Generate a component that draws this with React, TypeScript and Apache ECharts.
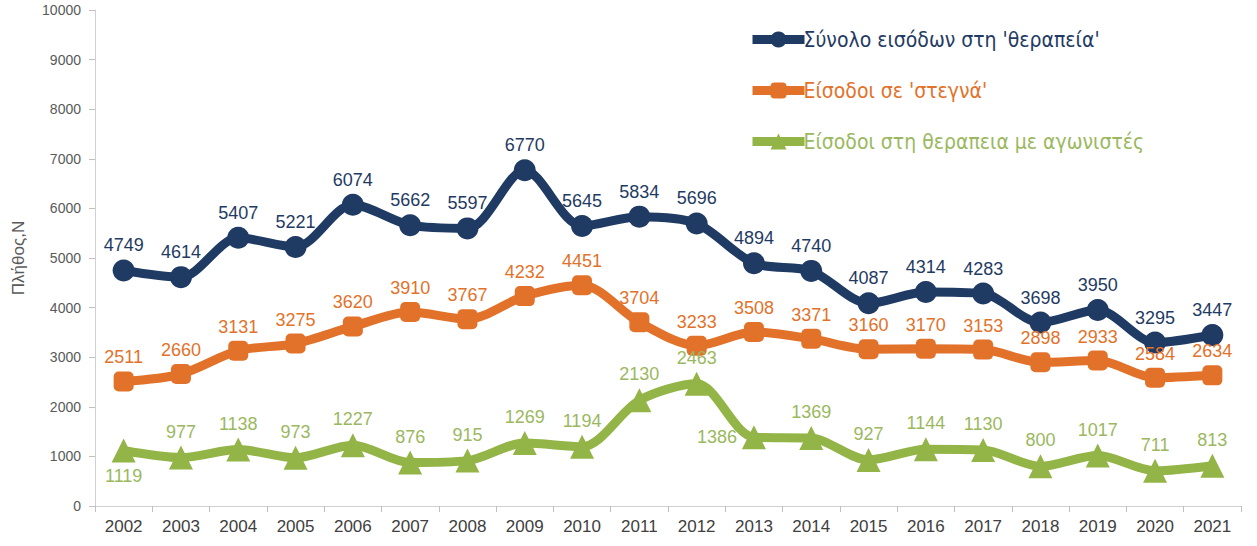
import React, { useEffect, useRef } from "react";
import * as echarts from "echarts";

const years = ["2002","2003","2004","2005","2006","2007","2008","2009","2010","2011","2012","2013","2014","2015","2016","2017","2018","2019","2020","2021"];
const totalEntries = [4749,4614,5407,5221,6074,5662,5597,6770,5645,5834,5696,4894,4740,4087,4314,4283,3698,3950,3295,3447];
const dryEntries = [2511,2660,3131,3275,3620,3910,3767,4232,4451,3704,3233,3508,3371,3160,3170,3153,2898,2933,2584,2634];
const agonistEntries = [1119,977,1138,973,1227,876,915,1269,1194,2130,2463,1386,1369,927,1144,1130,800,1017,711,813];
const seriesNames = ["Σύνολο εισόδων στη 'θεραπεία'", "Είσοδοι σε 'στεγνά'", "Είσοδοι στη θεραπεια με αγωνιστές"];
const yAxisName = "Πλήθος,Ν";

const NAVY = "#1f3b63";
const ORANGE = "#e2722a";
const GREEN = "#93b446";
const GREEN_TXT = "#9bb860";

export default function App() {
  const ref = useRef<HTMLDivElement>(null);
  useEffect(() => {
    const chart = echarts.init(ref.current!, null, { renderer: "svg" });
    const font = "Liberation Sans Narrow, Arial Narrow, Liberation Sans, sans-serif";
    const mkSeries = (name: string, data: number[], color: string, txt: string, symbol: string, size: number, labelPos: (i: number) => string) => ({
      name,
      type: "line",
      data: data.map((v, i) => ({ value: v, label: { position: labelPos(i) } })),
      smooth: 0.3,
      symbol,
      symbolSize: size,
      lineStyle: { color, width: 9 },
      itemStyle: { color },
      label: {
        show: true,
        color: txt,
        fontSize: 18,
        fontFamily: font,
        distance: 5,
      },
      z: 2,
    });
    chart.setOption({
      animation: false,
      textStyle: { fontFamily: font },
      grid: { left: 95, right: 16, top: 10, bottom: 40, containLabel: false },
      legend: {
        orient: "vertical",
        left: 743,
        top: 24,
        itemGap: 30,
        itemWidth: 52,
        itemHeight: 20,
        lineStyle: { width: 9 },
        textStyle: { fontSize: 21, fontFamily: "DejaVu Sans Condensed, DejaVu Sans, sans-serif", padding: [0, 0, 0, -6] },
        data: [
          { name: seriesNames[0], textStyle: { color: NAVY } },
          { name: seriesNames[1], textStyle: { color: ORANGE } },
          { name: seriesNames[2], textStyle: { color: GREEN_TXT } },
        ],
      },
      xAxis: {
        type: "category",
        data: years,
        boundaryGap: true,
        axisLine: { show: true, lineStyle: { color: "#d0d0d0", width: 1 } },
        axisTick: { show: true, length: 6, lineStyle: { color: "#c0c0c0" } },
        axisLabel: { color: "#404040", fontSize: 17, margin: 12, fontFamily: font },
      },
      yAxis: {
        type: "value",
        min: 0,
        max: 10000,
        interval: 1000,
        name: yAxisName,
        nameLocation: "middle",
        nameGap: 68,
        nameRotate: 90,
        nameTextStyle: { color: "#595959", fontSize: 17, fontFamily: font },
        axisLine: { show: true, lineStyle: { color: "#d0d0d0", width: 1 } },
        axisTick: { show: true, length: 6, lineStyle: { color: "#c0c0c0" } },
        splitLine: { show: false },
        axisLabel: { color: "#595959", fontSize: 14, margin: 14, fontFamily: font, formatter: (v: number) => String(v) },
      },
      series: [
        mkSeries(seriesNames[0], totalEntries, NAVY, NAVY, "circle", 22, () => "top"),
        mkSeries(seriesNames[1], dryEntries, ORANGE, ORANGE, "roundRect", 20, () => "top"),
        mkSeries(seriesNames[2], agonistEntries, GREEN, GREEN_TXT, "triangle", 24, (i) => (i === 0 ? "bottom" : i === 11 ? "left" : "top")),
      ],
    });
    return () => chart.dispose();
  }, []);
  return <div ref={ref} style={{ position: "absolute", left: 0, top: 0, width: 1257, height: 546 }} />;
}
